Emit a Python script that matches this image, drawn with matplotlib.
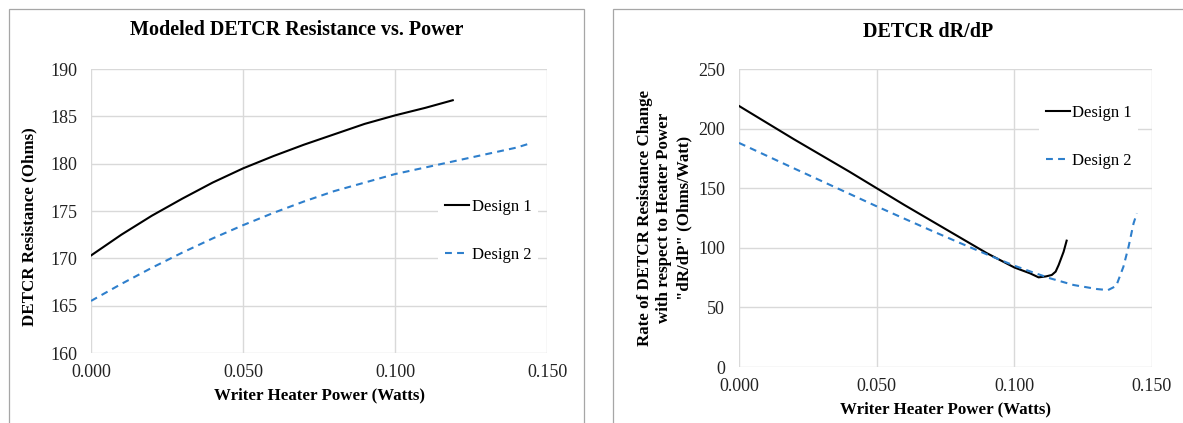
import matplotlib
matplotlib.use('Agg')
import matplotlib.pyplot as plt
from matplotlib.patches import Rectangle

plt.rcParams['font.family'] = ['Liberation Serif', 'DejaVu Serif']

# Modeled resistance vs. power
p1 = [0.0, 0.01, 0.02, 0.03, 0.04, 0.05, 0.06, 0.07, 0.08, 0.09, 0.10, 0.11, 0.119]
r1 = [170.3, 172.5, 174.5, 176.3, 178.0, 179.5, 180.8, 182.0, 183.1, 184.2, 185.1, 185.9, 186.7]
p2 = [0.0, 0.01, 0.02, 0.03, 0.04, 0.05, 0.06, 0.07, 0.08, 0.09, 0.10, 0.11, 0.12, 0.13, 0.14, 0.145]
r2 = [165.5, 167.3, 169.0, 170.6, 172.1, 173.5, 174.8, 176.0, 177.1, 178.0, 178.9, 179.6, 180.3, 181.0, 181.7, 182.2]

# dR/dP
dp1 = [0.0, 0.01, 0.02, 0.03, 0.04, 0.05, 0.06, 0.07, 0.08, 0.09, 0.10, 0.1057, 0.1088,
       0.1115, 0.1136, 0.115, 0.1161, 0.1179, 0.119]
drdp1 = [219, 205, 191, 177.5, 164, 150, 136, 122.5, 109, 95.5, 83.5, 78.6, 75.2,
         76, 77.2, 80, 85.6, 96.7, 106]
dp2 = [0.0, 0.01, 0.02, 0.03, 0.04, 0.05, 0.06, 0.07, 0.08, 0.09, 0.10, 0.106, 0.113,
       0.1215, 0.130, 0.134, 0.137, 0.1396, 0.1415, 0.1433, 0.1445]
drdp2 = [188, 177.3, 166.6, 156, 145.4, 134.8, 124.5, 114.3, 104.3, 94.5, 85, 80, 74.4,
         68.8, 65.4, 64.5, 68, 84, 101, 120.5, 129]

W, H = 1183, 423
fig = plt.figure(figsize=(W / 100, H / 100), dpi=100)

def box(x0, y0, x1, y1):
    return [x0 / W, 1 - y1 / H, (x1 - x0) / W, (y1 - y0) / H]

grid_c = '#d9d9d9'
blue = '#2E7FCC'
tick_fs = 13
lab_fs = 12.2
leg_fs = 12

# panel frames
fig.patches.append(Rectangle((9 / W, -0.05), (584 - 9) / W, 1.05 - 9 / H, transform=fig.transFigure,
                             fill=False, edgecolor='#a6a6a6', lw=0.9))
fig.patches.append(Rectangle((613 / W, -0.05), (1200 - 613) / W, 1.05 - 9 / H, transform=fig.transFigure,
                             fill=False, edgecolor='#a6a6a6', lw=0.9))

def style(ax):
    for s in ax.spines.values():
        s.set_visible(False)
    ax.grid(True, color=grid_c, lw=1.0)
    ax.set_axisbelow(True)
    ax.tick_params(length=0, labelsize=tick_fs, colors='#222222')
    ax.tick_params(axis='y', pad=10)
    ax.tick_params(axis='x', pad=8)

def add_legend(ax, anchor):
    leg = ax.legend(loc='center left', bbox_to_anchor=anchor, frameon=True, fontsize=leg_fs,
                    handlelength=1.45, handletextpad=0.15, labelspacing=1.9, borderpad=0.4,
                    borderaxespad=0, fancybox=False)
    leg.get_frame().set_edgecolor('none')
    leg.get_frame().set_facecolor('white')
    leg.get_frame().set_alpha(1)

ax1 = fig.add_axes(box(91, 69, 547, 353))
ax1.plot(p1, r1, color='black', lw=1.5, label='Design 1')
ax1.plot(p2, r2, color=blue, lw=1.5, dashes=(3.3, 2.5), label='Design 2')
ax1.set_xlim(0, 0.15)
ax1.set_ylim(160, 190)
ax1.set_xticks([0, 0.05, 0.1, 0.15])
ax1.set_xticklabels(['0.000', '0.050', '0.100', '0.150'])
ax1.set_yticks(range(160, 191, 5))
style(ax1)
ax1.set_xlabel('Writer Heater Power (Watts)', fontsize=lab_fs, fontweight='bold')
ax1.xaxis.set_label_coords(0.502, -0.12)
ax1.set_ylabel('DETCR Resistance (Ohms)', fontsize=lab_fs, fontweight='bold')
ax1.yaxis.set_label_coords(-0.118, 0.444)
add_legend(ax1, (0.762, 0.43))

ax2 = fig.add_axes(box(739, 69, 1152, 367))
ax2.plot(dp1, drdp1, color='black', lw=1.5, label='Design 1')
ax2.plot(dp2, drdp2, color=blue, lw=1.5, dashes=(3.3, 2.5), label='Design 2')
ax2.set_xlim(0, 0.15)
ax2.set_ylim(0, 250)
ax2.set_xticks([0, 0.05, 0.1, 0.15])
ax2.set_xticklabels(['0.000', '0.050', '0.100', '0.150'])
ax2.set_yticks(range(0, 251, 50))
style(ax2)
ax2.set_xlabel('Writer Heater Power (Watts)', fontsize=lab_fs, fontweight='bold')
ax2.xaxis.set_label_coords(0.5, -0.114)
ax2.set_ylabel('Rate of DETCR Resistance Change\nwith respect to Heater Power\n"dR/dP" (Ohms/Watt)',
               fontsize=lab_fs, fontweight='bold', linespacing=1.3)
ax2.yaxis.set_label_coords(-0.114, 0.5)
add_legend(ax2, (0.726, 0.772))

fig.text(297 / W, 1 - 30 / H, 'Modeled DETCR Resistance vs. Power', ha='center', va='center',
         fontsize=14.5, fontweight='bold')
fig.text(928 / W, 1 - 32 / H, 'DETCR dR/dP', ha='center', va='center', fontsize=14.5, fontweight='bold')

fig.savefig('out.png', dpi=100)
